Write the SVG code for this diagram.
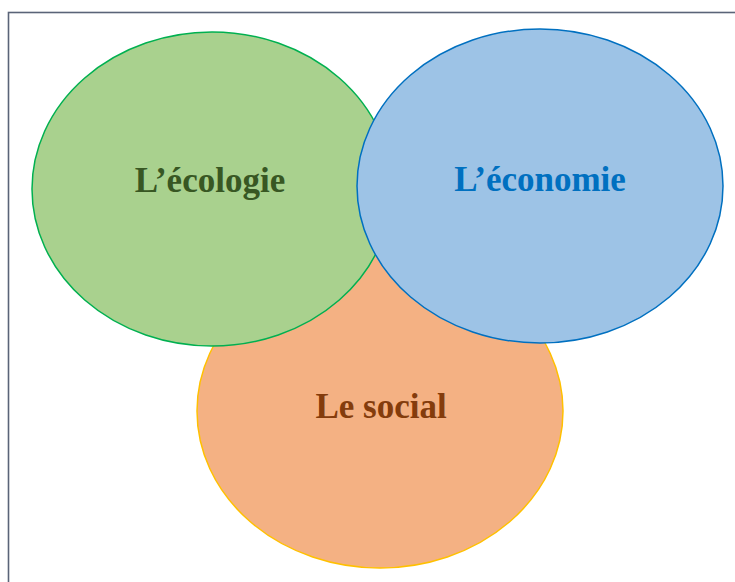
<svg xmlns="http://www.w3.org/2000/svg" width="735" height="582" viewBox="0 0 735 582">
<style>
.lbl{font-family:"Liberation Serif","Times New Roman",serif;font-weight:bold;font-size:35px;text-anchor:middle}
</style>
<rect width="735" height="582" fill="#ffffff"/>
<rect x="8.5" y="12.5" width="740" height="590" fill="none" stroke="#5a6478" stroke-width="1.6"/>
<g id="social">
<ellipse cx="380" cy="411" rx="183" ry="157" fill="#f4b183" stroke="#ffc000" stroke-width="1.5"/>
<text class="lbl" x="381" y="418" fill="#843c0c">Le social</text>
</g>
<g id="ecologie">
<ellipse cx="212" cy="189" rx="180" ry="157" fill="#a9d18e" stroke="#00b050" stroke-width="1.5"/>
<text class="lbl" x="210" y="192" fill="#385723">L’écologie</text>
</g>
<g id="economie">
<ellipse cx="540" cy="186" rx="183" ry="157" fill="#9dc3e6" stroke="#0070c0" stroke-width="1.5"/>
<text class="lbl" x="540" y="191" fill="#0070c0">L’économie</text>
</g>
<g id="connectors"/>
</svg>
